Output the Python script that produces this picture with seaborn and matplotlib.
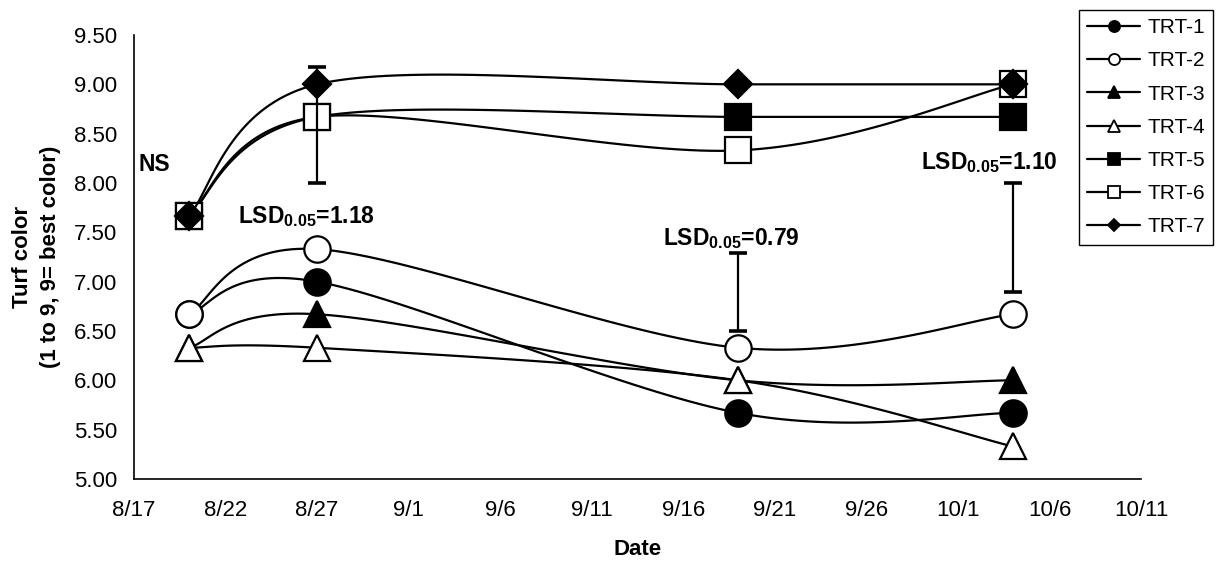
import numpy as np
import pandas as pd
import matplotlib
matplotlib.use("Agg")
import matplotlib.pyplot as plt
import matplotlib.dates as mdates
from matplotlib.lines import Line2D
import seaborn as sns

# ---------------- data ----------------
dates = ["8/20", "8/27", "9/19", "10/4"]
trt1 = [6.67, 7.00, 5.67, 5.67]
trt2 = [6.67, 7.33, 6.33, 6.67]
trt3 = [6.33, 6.67, 6.00, 6.00]
trt4 = [6.33, 6.33, 6.00, 5.33]
trt5 = [7.67, 8.67, 8.67, 8.67]
trt6 = [7.67, 8.67, 8.33, 9.00]
trt7 = [7.67, 9.00, 9.00, 9.00]
series_names = ["TRT-1", "TRT-2", "TRT-3", "TRT-4", "TRT-5", "TRT-6", "TRT-7"]
series_values = [trt1, trt2, trt3, trt4, trt5, trt6, trt7]

lsd_dates = ["8/27", "9/19", "10/4"]
lsd_low = [8.00, 6.50, 6.90]
lsd_high = [9.18, 7.29, 8.00]
lsd_values = ["1.18", "0.79", "1.10"]

x_tick_labels = ["8/17", "8/22", "8/27", "9/1", "9/6", "9/11", "9/16",
                 "9/21", "9/26", "10/1", "10/6", "10/11"]
y_ticks = [5.00, 5.50, 6.00, 6.50, 7.00, 7.50, 8.00, 8.50, 9.00, 9.50]

YEAR = 2009


def to_num(s):
    return mdates.date2num(pd.Timestamp(f"{YEAR}/{s}"))


# ---------------- style ----------------
sns.set_theme(style="white")
plt.rcParams["font.family"] = ["Liberation Sans", "DejaVu Sans"]
plt.rcParams["mathtext.fontset"] = "custom"
plt.rcParams["mathtext.rm"] = "Liberation Sans"
plt.rcParams["mathtext.bf"] = "Liberation Sans:bold"
for key in ["text.color", "axes.labelcolor", "xtick.color", "ytick.color",
            "axes.edgecolor"]:
    plt.rcParams[key] = "black"

markers = ["o", "o", "^", "^", "s", "s", "D"]
faces = ["black", "white", "black", "white", "black", "white", "black"]
msizes = [19, 19, 19, 19, 19, 19, 14]
leg_sizes = [8, 8, 8, 8, 8, 8, 6]


def excel_smooth(xs, ys, n=40):
    P = np.column_stack([xs, ys]).astype(float)
    m = len(P)
    out = []
    t = np.linspace(0, 1, n)[:, None]
    for i in range(m - 1):
        p0 = P[i - 1] if i > 0 else P[i]
        p1 = P[i]
        p2 = P[i + 1]
        p3 = P[i + 2] if i + 2 < m else P[i + 1]
        c1 = p1 + (p2 - p0) / 6.0
        c2 = p2 - (p3 - p1) / 6.0
        seg = ((1 - t) ** 3) * p1 + 3 * ((1 - t) ** 2) * t * c1 + 3 * (1 - t) * t ** 2 * c2 + t ** 3 * p2
        out.append(seg if i == 0 else seg[1:])
    return np.vstack(out)


fig = plt.figure(figsize=(12.16, 5.62), dpi=100)
ax = fig.add_axes([134 / 1216, 1 - 479 / 562, (1141 - 134) / 1216, (479 - 35) / 562])

xnum = np.array([to_num(d) for d in dates])

for i, (name, vals) in enumerate(zip(series_names, series_values)):
    curve = excel_smooth(xnum, vals)
    cdf = pd.DataFrame({"x": curve[:, 0], "y": curve[:, 1]})
    sns.lineplot(data=cdf, x="x", y="y", ax=ax, sort=False, estimator=None,
                 color="black", linewidth=1.6, legend=False, zorder=2 + 2 * i)
    pdf = pd.DataFrame({"x": xnum, "y": vals})
    sns.lineplot(data=pdf, x="x", y="y", ax=ax, sort=False, estimator=None,
                 linestyle="none", marker=markers[i], markersize=msizes[i],
                 markerfacecolor=faces[i], markeredgecolor="black",
                 markeredgewidth=1.6, color="black", legend=False,
                 zorder=3 + 2 * i)

# LSD bars
lx = np.array([to_num(d) for d in lsd_dates])
lo = np.array(lsd_low)
hi = np.array(lsd_high)
ax.errorbar(lx, (lo + hi) / 2, yerr=(hi - lo) / 2, fmt="none", ecolor="black",
            elinewidth=1.6, capsize=6.5, capthick=2.6, zorder=30)

# annotations
d0 = to_num("8/17")
ax.text(d0 + 0.27, 8.12, "NS", fontsize=16.5, fontweight="bold", ha="left", va="baseline")
lsd_text_pos = [(d0 + 5.68, 7.59), (d0 + 28.9, 7.37), (d0 + 43.0, 8.14)]
for (tx, ty), v in zip(lsd_text_pos, lsd_values):
    ax.text(tx, ty, r"LSD$_{\mathbf{0.05}}$=" + v, fontsize=16.5, fontweight="bold",
            ha="left", va="baseline", zorder=40)

# axes
xt = [to_num(s) for s in x_tick_labels]
ax.set_xlim(xt[0], xt[-1])
ax.set_ylim(5.0, 9.5)
ax.set_xticks(xt)
ax.set_xticklabels(x_tick_labels)
ax.set_yticks(y_ticks)
ax.set_yticklabels([f"{v:.2f}" for v in y_ticks])
ax.tick_params(axis="both", direction="in", length=6, width=1, colors="black",
               labelsize=16)
ax.tick_params(axis="y", pad=12)
ax.tick_params(axis="x", pad=15)
for side in ["top", "right"]:
    ax.spines[side].set_visible(False)
for side in ["left", "bottom"]:
    ax.spines[side].set_color("black")
    ax.spines[side].set_linewidth(1.2)
ax.grid(False)

ax.set_xlabel("Date", fontsize=16, fontweight="bold")
ax.xaxis.set_label_coords(0.5005, (479 - 539) / 444)
ax.set_ylabel("Turf color\n(1 to 9, 9= best color)", fontsize=16,
              fontweight="bold", linespacing=1.45)
ax.yaxis.set_label_coords(-0.072, 0.5)

handles = [Line2D([0], [0], color="black", lw=1.6, marker=markers[i],
                  markersize=leg_sizes[i], markerfacecolor=faces[i],
                  markeredgecolor="black", markeredgewidth=1.3)
           for i in range(len(series_names))]
leg = fig.legend(handles, series_names, loc="upper right",
                 bbox_to_anchor=(1213 / 1216, 1 - 10 / 562), frameon=True,
                 fancybox=False, edgecolor="black", framealpha=1, fontsize=15,
                 handlelength=2.55, labelspacing=0.68, borderpad=0.4,
                 handletextpad=0.33, borderaxespad=0)
leg.get_frame().set_linewidth(1.0)

fig.savefig("out.png", dpi=100)
